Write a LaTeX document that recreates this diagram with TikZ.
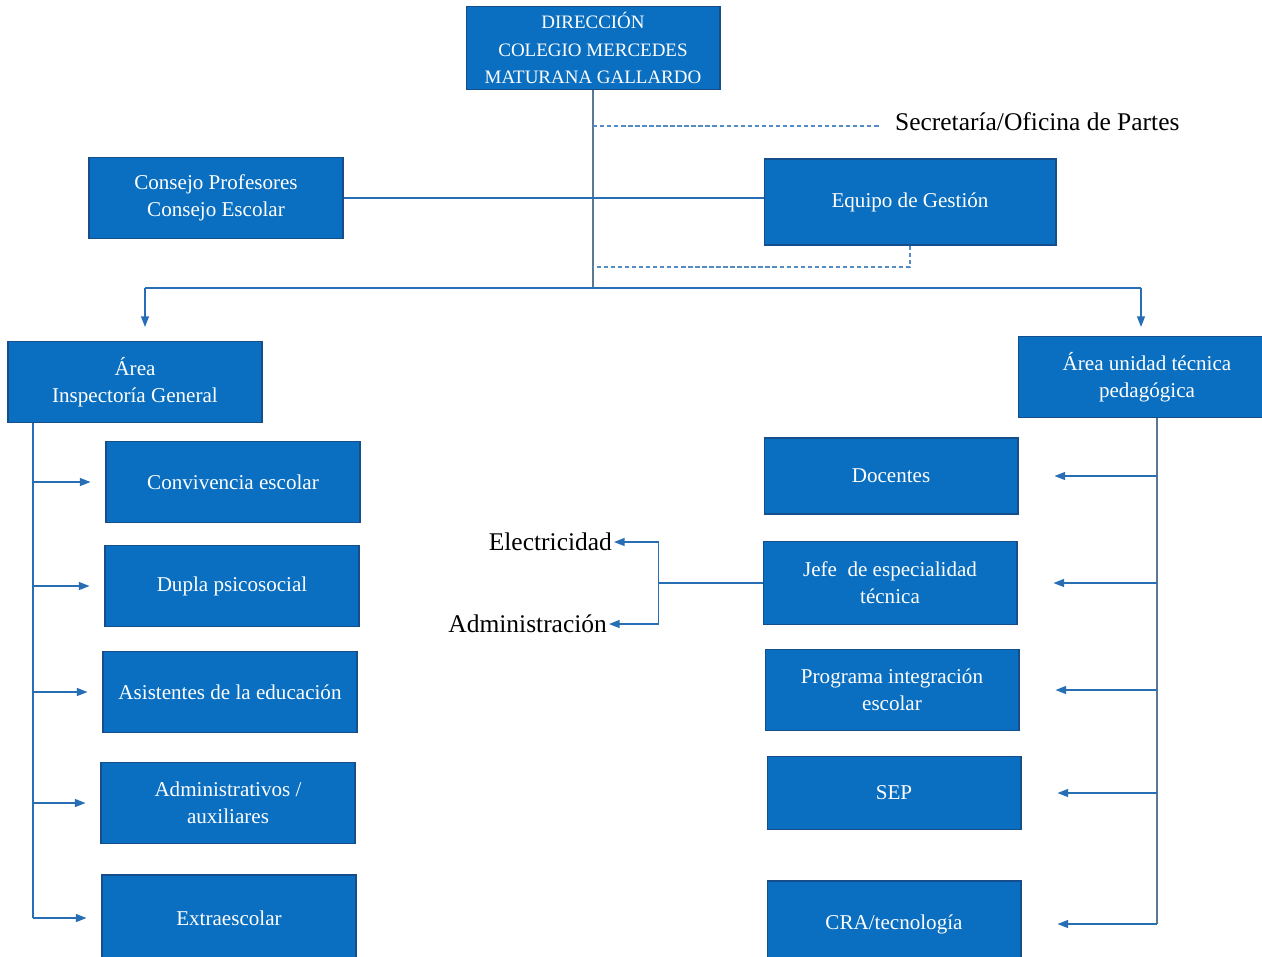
\documentclass[tikz,border=0pt]{standalone}
\usepackage{fontspec}
\setmainfont{Liberation Serif}
\usetikzlibrary{positioning}
\usetikzlibrary{arrows.meta}
\usepackage{xcolor}

\definecolor{azulcaja}{RGB}{10,111,192}
\definecolor{bordecaja}{RGB}{22,78,140}
\definecolor{azullinea}{RGB}{40,110,180}
\definecolor{grislinea}{RGB}{90,120,150}

\tikzset{
  caja/.style={draw=bordecaja, fill=azulcaja, text=white, align=center,
    minimum width=5.08cm, minimum height=1.62cm, line width=0.6pt,
    font=\fontsize{12}{15.4}\selectfont},
  linea/.style={azullinea, line width=0.8pt},
  flecha/.style={linea, -{Triangle[length=6pt,width=4.5pt]}},
  punteado/.style={azullinea!80, line width=0.7pt, dash pattern=on 2.5pt off 1.5pt},
  rotulo/.style={font=\fontsize{14.5}{17}\selectfont, inner sep=1pt},
}

\begin{document}
\begin{tikzpicture}[x=0.02cm, y=-0.02cm]
\useasboundingbox (0,0) rectangle (1262,957);

% cabecera
\node[caja, minimum height=1.6cm, font=\fontsize{10.8}{15.4}\selectfont] (dir) at (593,48) {DIRECCIÓN\\COLEGIO MERCEDES\\MATURANA GALLARDO};
\node[caja] (consejo) at (216,198) {Consejo Profesores\\Consejo Escolar};
\node[caja, minimum width=5.84cm, minimum height=1.72cm] (equipo) at (910,202) {Equipo de Gestión};
\node[rotulo, anchor=west] (secre) at (893,122) {Secretaría/Oficina de Partes};

% areas
\node[caja] (inspect) at (135,382) {Área\\Inspectoría General};
\node[caja, minimum width=5.14cm] (utp) at (1147,377) {Área unidad técnica\\pedagógica};

% columna izquierda
\node[caja] (conviv) at (233,482) {Convivencia escolar};
\node[caja] (dupla) at (232,586) {Dupla psicosocial};
\node[caja] (asist) at (230,692) {Asistentes de la educación};
\node[caja] (admin) at (228,803) {Administrativos /\\auxiliares};
\node[caja, minimum height=1.72cm] (extra) at (229,918) {Extraescolar};

% columna derecha
\node[caja, minimum height=1.52cm] (docentes) at (891,476) {Docentes};
\node[caja, minimum height=1.66cm] (jefe) at (890,583) {Jefe\ \ de especialidad\\técnica};
\node[caja] (pie) at (892,690) {Programa integración\\escolar};
\node[caja, minimum height=1.46cm] (sep) at (894,793) {SEP};
\node[caja, minimum height=1.72cm] (cra) at (894,924) {CRA/tecnología};

% especialidades
\node[rotulo, anchor=east] (elec) at (614,542) {Electricidad};
\node[rotulo, anchor=east] (adm) at (609,624) {Administración};

% lineas centrales
\coordinate (cruce) at (dir.south |- 0,288);
\draw[linea, grislinea] (dir.south) -- (cruce);
\draw[punteado] ([yshift=-0.08cm]dir.south |- secre.west) -- ([xshift=-0.26cm, yshift=-0.08cm]secre.west);
\draw[linea] (consejo.east) -- (consejo.east -| equipo.west);
\draw[punteado] (equipo.south) |- (dir.south |- 0,267);

\coordinate (izq) at (145,288);
\coordinate (der) at (1141,288);
\draw[linea] (izq) -- (der);
\draw[flecha, shorten >=0.28cm] (izq) -- (izq |- inspect.north);
\draw[flecha, shorten >=0.18cm] (der) -- (der |- utp.north);

% lado izquierdo
\coordinate (espizq) at (33,423);
\draw[linea] (espizq) -- (espizq |- extra.west);
\foreach \b in {conviv,dupla,asist,admin,extra}
  \draw[flecha, shorten >=0.3cm] (espizq |- \b.west) -- (\b.west);

% lado derecho
\coordinate (espder) at (1157,418);
\draw[linea, grislinea] (espder) -- (espder |- cra.east);
\foreach \b in {docentes,jefe,pie,sep,cra}
  \draw[flecha, shorten >=0.72cm] (espder |- \b.east) -- (\b.east);

% jefe de especialidad
\coordinate (bif) at ([xshift=-2.08cm]jefe.west);
\draw[linea] (jefe.west) -- (bif);
\draw[flecha] (bif) |- (elec.east);
\draw[flecha] (bif) |- (adm.east);

\end{tikzpicture}
\end{document}
